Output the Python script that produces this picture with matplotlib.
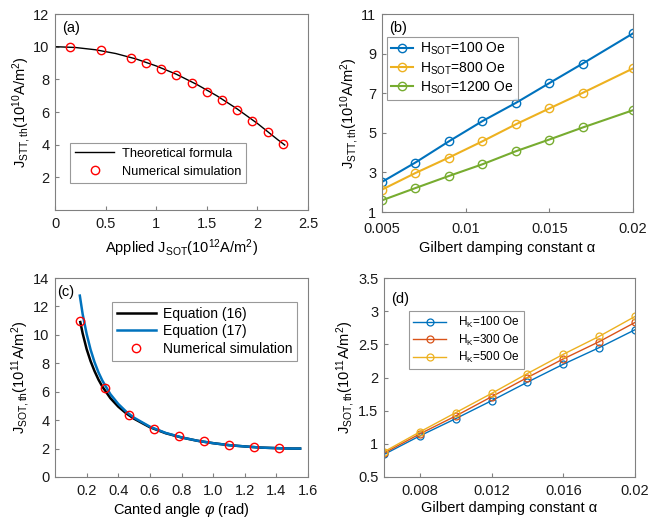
import numpy as np
import matplotlib
matplotlib.use("Agg")
import matplotlib.pyplot as plt

plt.rcParams['font.family'] = ['Liberation Sans', 'DejaVu Sans']
plt.rcParams['mathtext.fontset'] = 'custom'
plt.rcParams['mathtext.rm'] = 'Liberation Sans'
plt.rcParams['mathtext.it'] = 'Liberation Sans:italic'
plt.rcParams['mathtext.bf'] = 'Liberation Sans:bold'
plt.rcParams['font.size'] = 10.5

BLUE = '#0072BD'
RED = '#D95319'
YELLOW = '#EDB120'
GREEN = '#77AC30'
AXCOL = '#808080'

# (a) J_STT,th vs applied J_SOT
a_line_x = [0.0, 0.2, 0.4, 0.6, 0.8, 1.0, 1.2, 1.4, 1.6, 1.8, 2.0, 2.2, 2.27]
a_line_y = [10.0, 9.95, 9.81, 9.58, 9.25, 8.82, 8.31, 7.69, 6.99, 6.19, 5.30, 4.31, 3.98]
a_sim_x = [0.15, 0.45, 0.75, 0.9, 1.05, 1.2, 1.35, 1.5, 1.65, 1.8, 1.95, 2.1, 2.25]
a_sim_y = [10.0, 9.8, 9.3, 9.0, 8.65, 8.25, 7.8, 7.25, 6.75, 6.1, 5.45, 4.8, 4.05]

# (b) J_STT,th vs alpha for three H_SOT
b_alpha = [0.005, 0.007, 0.009, 0.011, 0.013, 0.015, 0.017, 0.02]
b_h100 = [2.52, 3.5, 4.57, 5.59, 6.51, 7.51, 8.5, 10.02]
b_h800 = [2.13, 2.97, 3.75, 4.57, 5.43, 6.23, 7.02, 8.25]
b_h1200 = [1.59, 2.21, 2.82, 3.41, 4.07, 4.66, 5.27, 6.14]

# (c) J_SOT,th vs canted angle
c_eq17_x = [0.157, 0.175, 0.2, 0.225, 0.25, 0.275, 0.3, 0.35, 0.4, 0.45, 0.5, 0.6,
            0.7, 0.8, 0.9, 1.0, 1.1, 1.2, 1.3, 1.4, 1.5, 1.55]
c_eq17_y = [12.76, 11.45, 10.07, 8.96, 8.08, 7.36, 6.77, 5.83, 5.14, 4.60, 4.17, 3.54,
            3.10, 2.79, 2.55, 2.38, 2.24, 2.15, 2.07, 2.03, 2.00, 2.00]
c_eq16_x = [0.16, 0.175, 0.2, 0.225, 0.25, 0.275, 0.3, 0.35, 0.4, 0.45, 0.5, 0.6,
            0.7, 0.8, 0.9, 1.0, 1.1, 1.2, 1.3, 1.4, 1.5, 1.55]
c_eq16_y = [10.9, 10.1, 9.0, 8.15, 7.45, 6.85, 6.35, 5.55, 4.95, 4.48, 4.10, 3.50,
            3.08, 2.78, 2.55, 2.38, 2.24, 2.15, 2.07, 2.03, 2.00, 2.00]
c_sim_x = [0.157, 0.314, 0.471, 0.628, 0.785, 0.942, 1.1, 1.257, 1.414]
c_sim_y = [11.0, 6.23, 4.35, 3.41, 2.87, 2.52, 2.28, 2.12, 2.05]

# (d) J_SOT,th vs alpha for three H_K
d_alpha = [0.006, 0.008, 0.01, 0.012, 0.014, 0.016, 0.018, 0.02]
d_hk100 = [0.84, 1.12, 1.38, 1.65, 1.93, 2.2, 2.45, 2.72]
d_hk300 = [0.86, 1.15, 1.42, 1.71, 2.0, 2.28, 2.54, 2.83]
d_hk500 = [0.88, 1.18, 1.47, 1.76, 2.06, 2.35, 2.62, 2.92]

W, H = 652, 518
fig = plt.figure(figsize=(W / 100, H / 100), dpi=100)


def make_ax(left, right, top, bottom):
    ax = fig.add_axes([left / W, (H - bottom) / H, (right - left) / W, (bottom - top) / H])
    for s in ax.spines.values():
        s.set_color(AXCOL)
        s.set_linewidth(0.8)
    ax.tick_params(direction='in', length=3, color=AXCOL, labelsize=10.5,
                   top=False, right=False, pad=4, labelcolor='#1a1a1a')
    return ax


# panel (a)
ax = make_ax(55, 308, 14, 210)
ax.plot(a_line_x, a_line_y, color='black', lw=1.0, label='Theoretical formula')
ax.plot(a_sim_x, a_sim_y, 'o', mfc='none', mec='red', ms=6, mew=1.0, ls='none',
        label='Numerical simulation')
ax.set_xlim(0, 2.5)
ax.set_ylim(0, 12)
ax.set_xticks([0, 0.5, 1, 1.5, 2, 2.5])
ax.set_xticklabels(['0', '0.5', '1', '1.5', '2', '2.5'])
ax.set_yticks([2, 4, 6, 8, 10, 12])
ax.tick_params(axis='x', pad=5)
ax.set_xlabel(r'Applied J$_{\mathregular{SOT}}$(10$^{\mathregular{12}}$A/m$^{\mathregular{2}}$)', labelpad=5)
ax.set_ylabel(r'J$_{\mathregular{STT,th}}$(10$^{\mathregular{10}}$A/m$^{\mathregular{2}}$)', labelpad=0)
ax.text(0.03, 0.965, '(a)', transform=ax.transAxes, va='top', ha='left', fontsize=10.5)
leg = ax.legend(loc='lower left', bbox_to_anchor=(0.06, 0.138), fontsize=9.3,
                fancybox=False, edgecolor=AXCOL, handlelength=3.0, borderpad=0.4,
                labelspacing=0.45, handletextpad=0.6, borderaxespad=0)
leg.get_frame().set_linewidth(0.8)

# panel (b)
ax = make_ax(382, 633, 14, 212)
for ys, col, lab in [(b_h100, BLUE, '100'), (b_h800, YELLOW, '800'), (b_h1200, GREEN, '1200')]:
    ax.plot(b_alpha, ys, '-o', color=col, mfc='none', mec=col, ms=6, lw=1.5, mew=1.0,
            label=r'H$_{\mathregular{SOT}}$=' + lab + ' Oe')
ax.set_xlim(0.005, 0.02)
ax.set_ylim(1, 11)
ax.set_xticks([0.005, 0.01, 0.015, 0.02])
ax.set_xticklabels(['0.005', '0.01', '0.015', '0.02'])
ax.set_yticks([1, 3, 5, 7, 9, 11])
ax.tick_params(axis='x', pad=7)
ax.set_xlabel('Gilbert damping constant α', labelpad=4)
ax.set_ylabel(r'J$_{\mathregular{STT,th}}$(10$^{\mathregular{10}}$A/m$^{\mathregular{2}}$)', labelpad=0)
ax.text(0.03, 0.965, '(b)', transform=ax.transAxes, va='top', ha='left', fontsize=10.5)
leg = ax.legend(loc='upper left', bbox_to_anchor=(0.02, 0.885), fontsize=10,
                fancybox=False, edgecolor=AXCOL, handlelength=1.6, borderpad=0.3,
                labelspacing=0.2, handletextpad=0.5, borderaxespad=0)
leg.get_frame().set_linewidth(0.8)

# panel (c)
ax = make_ax(55, 308, 278, 477)
ax.plot(c_eq16_x, c_eq16_y, color='black', lw=1.8, label='Equation (16)')
ax.plot(c_eq17_x, c_eq17_y, color=BLUE, lw=1.8, label='Equation (17)')
ax.plot(c_sim_x, c_sim_y, 'o', mfc='none', mec='red', ms=6, mew=1.0, ls='none',
        label='Numerical simulation')
ax.set_xlim(0, 1.6)
ax.set_ylim(0, 14)
ax.set_xticks([0.2, 0.4, 0.6, 0.8, 1.0, 1.2, 1.4, 1.6])
ax.set_xticklabels(['0.2', '0.4', '0.6', '0.8', '1.0', '1.2', '1.4', '1.6'])
ax.set_yticks([0, 2, 4, 6, 8, 10, 12, 14])
ax.tick_params(axis='x', pad=5)
ax.set_xlabel(r'Canted angle $\it{\varphi}$ (rad)', labelpad=2)
ax.set_ylabel(r'J$_{\mathregular{SOT,th}}$(10$^{\mathregular{11}}$A/m$^{\mathregular{2}}$)', labelpad=1)
ax.text(0.01, 0.965, '(c)', transform=ax.transAxes, va='top', ha='left', fontsize=10.5)
leg = ax.legend(loc='upper left', bbox_to_anchor=(0.225, 0.88), fontsize=10,
                fancybox=False, edgecolor=AXCOL, handlelength=2.8, borderpad=0.35,
                labelspacing=0.25, handletextpad=0.5, borderaxespad=0)
leg.get_frame().set_linewidth(0.8)

# panel (d)
ax = make_ax(384, 635, 278, 477)
for ys, col, lab in [(d_hk100, BLUE, '100'), (d_hk300, RED, '300'), (d_hk500, YELLOW, '500')]:
    ax.plot(d_alpha, ys, '-o', color=col, mfc='none', mec=col, ms=5, lw=1.0, mew=0.9,
            label=r'H$_{\mathregular{K}}$=' + lab + ' Oe')
ax.set_xlim(0.006, 0.02)
ax.set_ylim(0.5, 3.5)
ax.set_xticks([0.008, 0.012, 0.016, 0.02])
ax.set_xticklabels(['0.008', '0.012', '0.016', '0.02'])
ax.set_yticks([0.5, 1, 1.5, 2, 2.5, 3, 3.5])
ax.set_yticklabels(['0.5', '1', '1.5', '2', '2.5', '3', '3.5'])
ax.tick_params(axis='x', pad=5)
ax.set_xlabel('Gilbert damping constant α', labelpad=2)
ax.set_ylabel(r'J$_{\mathregular{SOT,th}}$(10$^{\mathregular{11}}$A/m$^{\mathregular{2}}$)', labelpad=1)
ax.text(0.03, 0.93, '(d)', transform=ax.transAxes, va='top', ha='left', fontsize=10.5)
leg = ax.legend(loc='upper left', bbox_to_anchor=(0.1, 0.835), fontsize=8.5,
                fancybox=False, edgecolor=AXCOL, handlelength=2.8, borderpad=0.35,
                labelspacing=0.2, handletextpad=1.0, borderaxespad=0)
leg.get_frame().set_linewidth(0.8)

fig.savefig('out.png', dpi=100)
